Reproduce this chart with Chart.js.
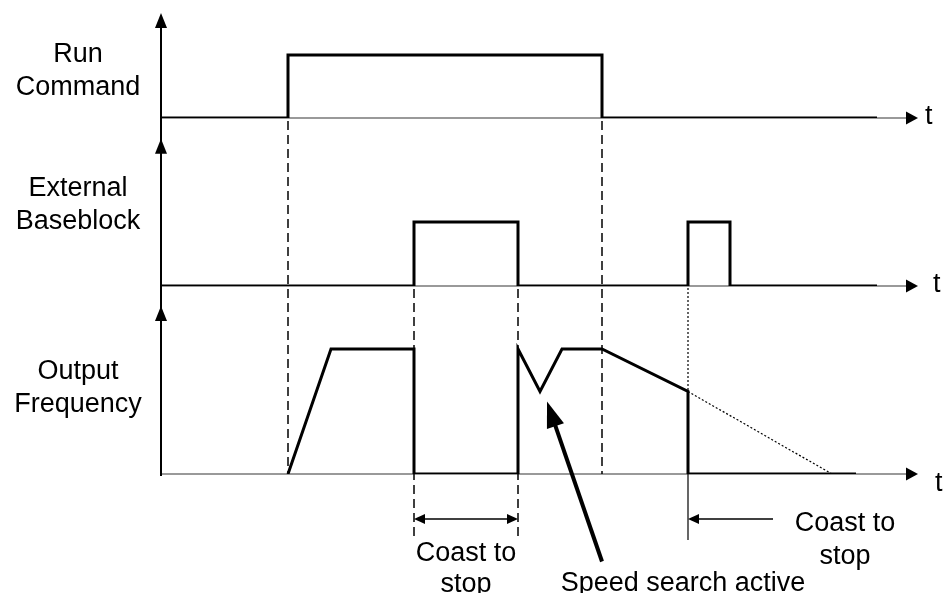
<!DOCTYPE html>
<html>
<head>
<meta charset="utf-8">
<script src="https://cdn.jsdelivr.net/npm/chart.js@4"></script>
<style>
  html, body { margin: 0; padding: 0; background: #fff; }
  #wrap { width: 946px; height: 593px; position: relative; }
</style>
</head>
<body>
<div id="wrap"><canvas id="timing"></canvas></div>
<script>
// signal labels (two lines each), top to bottom
const signalNames = [["Run", "Command"], ["External", "Baseblock"], ["Output", "Frequency"]];

// time in arbitrary units, level 0 = low, 1 = high
const runTime  = [0, 12.7, 12.7, 44.1, 44.1, 71.6];
const runLevel = [0, 0, 1, 1, 0, 0];

const bbTime  = [0, 25.3, 25.3, 35.7, 35.7, 52.7, 52.7, 56.9, 56.9, 71.6];
const bbLevel = [0, 0, 1, 1, 0, 0, 1, 1, 0, 0];

const freqTime  = [12.7, 17.0, 25.3, 25.3, 35.7, 35.7, 37.9, 40.1, 44.1, 52.7, 52.7, 69.5];
const freqLevel = [0, 1, 1, 0, 0, 1, 0.66, 1, 1, 0.66, 0, 0];

// dotted "would have coasted" line after the second baseblock
const coastTime  = [52.7, 67.1];
const coastLevel = [0.66, 0];

const runEdges = [12.7, 44.1];
const bbEdges = [25.3, 35.7];
const lateEdge = 52.7;
const coastEnd = 61.2;
const searchArrowTime = [44.1, 38.6];
const searchArrowLevel = [-0.70, 0.58];
const axisEnd = 75.7;

const notes = {
  coastLeft: ["Coast to", "stop"],
  coastRight: ["Coast to", "stop"],
  search: "Speed search active",
  axis: "t"
};

const FONT = "27px 'Liberation Sans', Arial, sans-serif";
const pts = (t, v) => t.map((x, i) => ({ x, y: v[i] }));

function seg(ctx, x1, y1, x2, y2, color, width, dash) {
  ctx.save();
  ctx.strokeStyle = color;
  ctx.lineWidth = width;
  ctx.setLineDash(dash || []);
  ctx.beginPath();
  ctx.moveTo(x1, y1);
  ctx.lineTo(x2, y2);
  ctx.stroke();
  ctx.restore();
}

function head(ctx, x, y, ang, len, half) {
  const c = Math.cos(ang), s = Math.sin(ang);
  ctx.beginPath();
  ctx.moveTo(x, y);
  ctx.lineTo(x - len * c + half * s, y - len * s - half * c);
  ctx.lineTo(x - len * c - half * s, y - len * s + half * c);
  ctx.closePath();
  ctx.fill();
}

const overlay = {
  id: "overlay",
  beforeDatasetsDraw(chart) {
    const ctx = chart.ctx;
    const sx = chart.scales.x;
    const ids = ["yRun", "yBb", "yFreq"];
    const tipLevels = [null, 2.30, 1.344];
    const tLabel = [[925, 124], [933, 292], [935, 491]];
    const labelY = [[62, 95], [196, 229], [379, 412]];
    const x0 = sx.getPixelForValue(0);
    const xEnd = sx.getPixelForValue(axisEnd);
    const base = ids.map(id => chart.scales[id].getPixelForValue(0));

    ctx.save();
    ctx.fillStyle = "#000";
    ctx.font = FONT;

    // time axes
    ids.forEach((id, i) => {
      seg(ctx, x0, base[i], xEnd - 10, base[i], "#777", 1.3);
      head(ctx, xEnd, base[i], 0, 12, 6.5);
      ctx.textAlign = "left";
      ctx.fillText(notes.axis, tLabel[i][0], tLabel[i][1]);
      ctx.textAlign = "center";
      ctx.fillText(signalNames[i][0], 78, labelY[i][0]);
      ctx.fillText(signalNames[i][1], 78, labelY[i][1]);
    });

    // vertical axis with three arrow heads
    const top = chart.chartArea.top;
    seg(ctx, x0, top + 4, x0, base[2] + 2, "#000", 2);
    head(ctx, x0, top, -Math.PI / 2, 15, 6);
    head(ctx, x0, chart.scales.yBb.getPixelForValue(tipLevels[1]), -Math.PI / 2, 15, 6);
    head(ctx, x0, chart.scales.yFreq.getPixelForValue(tipLevels[2]), -Math.PI / 2, 15, 6);

    // dashed guide lines
    const dash = [9, 5];
    runEdges.forEach(t => {
      const px = sx.getPixelForValue(t);
      seg(ctx, px, base[0] + 3, px, base[2], "#000", 1.5, dash);
    });
    bbEdges.forEach(t => {
      const px = sx.getPixelForValue(t);
      seg(ctx, px, base[1] + 3, px, base[2] + 66, "#000", 1.5, dash);
    });
    const lx = sx.getPixelForValue(lateEdge);
    seg(ctx, lx, base[1] + 2, lx, base[2], "#000", 1.2, [2, 2]);
    seg(ctx, lx, base[2], lx, base[2] + 66, "#000", 1.2);
    ctx.restore();
  },
  afterDatasetsDraw(chart) {
    const ctx = chart.ctx;
    const sx = chart.scales.x;
    const sf = chart.scales.yFreq;
    const b = sf.getPixelForValue(0);
    ctx.save();
    ctx.fillStyle = "#000";
    ctx.font = FONT;
    ctx.textAlign = "center";

    // coast to stop, left (double arrow)
    const a1 = sx.getPixelForValue(bbEdges[0]);
    const a2 = sx.getPixelForValue(bbEdges[1]);
    const ry = b + 45;
    seg(ctx, a1 + 8, ry, a2 - 8, ry, "#000", 1.3);
    head(ctx, a1, ry, Math.PI, 11, 5);
    head(ctx, a2, ry, 0, 11, 5);
    ctx.fillText(notes.coastLeft[0], (a1 + a2) / 2, b + 87);
    ctx.fillText(notes.coastLeft[1], (a1 + a2) / 2, b + 118);

    // coast to stop, right (single arrow)
    const c1 = sx.getPixelForValue(lateEdge);
    const c2 = sx.getPixelForValue(coastEnd);
    seg(ctx, c1 + 8, ry, c2, ry, "#000", 1.3);
    head(ctx, c1, ry, Math.PI, 11, 5);
    const rc = sx.getPixelForValue(68.4);
    ctx.fillText(notes.coastRight[0], rc, b + 57);
    ctx.fillText(notes.coastRight[1], rc, b + 90);

    // speed search arrow
    const tx = sx.getPixelForValue(searchArrowTime[0]);
    const ty = sf.getPixelForValue(searchArrowLevel[0]);
    const hx = sx.getPixelForValue(searchArrowTime[1]);
    const hy = sf.getPixelForValue(searchArrowLevel[1]);
    const ang = Math.atan2(hy - ty, hx - tx);
    seg(ctx, tx, ty, hx - 20 * Math.cos(ang), hy - 20 * Math.sin(ang), "#000", 4);
    head(ctx, hx, hy, ang, 26, 9);
    ctx.fillText(notes.search, sx.getPixelForValue(52.2), b + 117);
    ctx.restore();
  }
};

const lineStyle = {
  borderColor: "#000",
  borderWidth: 3,
  pointRadius: 0,
  showLine: true,
  tension: 0,
  fill: false,
  borderJoinStyle: "miter",
  borderCapStyle: "butt"
};

const hidden = { display: false };

new Chart(document.getElementById("timing"), {
  type: "scatter",
  data: {
    datasets: [
      { ...lineStyle, data: pts(runTime, runLevel), yAxisID: "yRun" },
      { ...lineStyle, data: pts(bbTime, bbLevel), yAxisID: "yBb" },
      { ...lineStyle, data: pts(freqTime, freqLevel), yAxisID: "yFreq" },
      { ...lineStyle, borderWidth: 1.2, borderDash: [2, 2], data: pts(coastTime, coastLevel), yAxisID: "yFreq" }
    ]
  },
  options: {
    responsive: true,
    maintainAspectRatio: false,
    animation: false,
    layout: { padding: { left: 161, top: 13, right: 25, bottom: 119 } },
    plugins: { legend: hidden, tooltip: { enabled: false } },
    scales: {
      x: { type: "linear", min: 0, max: 76, display: false },
      yRun: { type: "linear", position: "left", stack: "sig", stackWeight: 105, weight: 3, min: 0, max: 1.667, display: false },
      yBb: { type: "linear", position: "left", stack: "sig", stackWeight: 168, weight: 2, min: 0, max: 2.625, display: false },
      yFreq: { type: "linear", position: "left", stack: "sig", stackWeight: 188, weight: 1, min: 0, max: 1.504, display: false }
    }
  },
  plugins: [overlay]
});
</script>
</body>
</html>
